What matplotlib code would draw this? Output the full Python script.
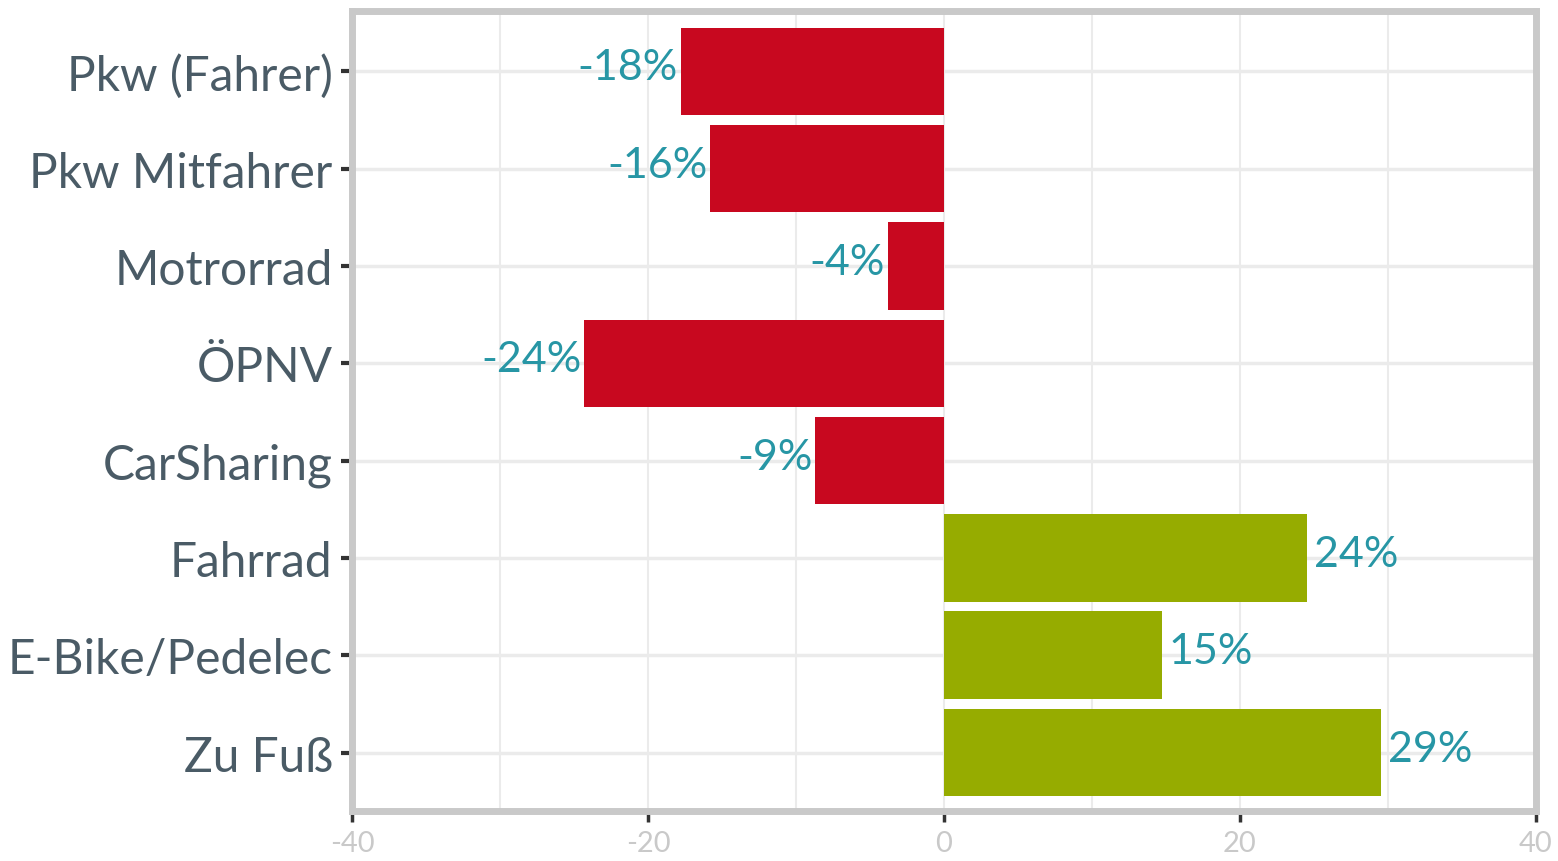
import matplotlib
matplotlib.use("Agg")
import matplotlib.pyplot as plt
from matplotlib.ticker import MultipleLocator

# Daten
kategorien = ["Pkw (Fahrer)", "Pkw Mitfahrer", "Motrorrad", "ÖPNV", "CarSharing",
              "Fahrrad", "E-Bike/Pedelec", "Zu Fuß"]
werte = [-17.8, -15.8, -3.8, -24.3, -8.7, 24.5, 14.7, 29.5]
beschriftung = ["-18%", "-16%", "-4%", "-24%", "-9%", "24%", "15%", "29%"]
x_ticks = [-40, -20, 0, 20, 40]

rot = "#C8081F"
gruen = "#96AC00"
teal = "#2796A5"
grau = "#C9C9C9"

plt.rcParams['font.family'] = ['Lato', 'DejaVu Sans']

fig = plt.figure(figsize=(15.58, 8.62), dpi=100)
ax = fig.add_axes([352 / 1558, 1 - 812 / 862, (1536 - 352) / 1558, 800 / 862])

pos = list(range(len(kategorien)))
farben = [rot if w < 0 else gruen for w in werte]
ax.barh(pos, werte, height=0.9, color=farben, zorder=3)

for p, w, t in zip(pos, werte, beschriftung):
    if w < 0:
        ax.text(w - 0.2, p - 0.04, t, ha='right', va='center', color=teal, fontsize=31, zorder=4)
    else:
        ax.text(w + 0.5, p - 0.04, t, ha='left', va='center', color=teal, fontsize=31, zorder=4)

ax.set_xlim(-40, 40)
ax.set_ylim(len(kategorien) - 0.4, -0.62)
ax.set_xticks(x_ticks)
ax.set_xticklabels([str(v) for v in x_ticks])
ax.xaxis.set_minor_locator(MultipleLocator(10))
ax.set_yticks(pos)
ax.set_yticklabels(kategorien)

ax.grid(True, which='both', axis='x', color='#EBEBEB', linewidth=1.5, zorder=0)
ax.grid(True, axis='y', color='#EBEBEB', linewidth=2.5, zorder=0)

for s in ax.spines.values():
    s.set_color(grau)
    s.set_linewidth(5)

ax.tick_params(axis='y', length=8, width=3, color='#333333', labelsize=34.5,
               labelcolor='#4A5B66', pad=6)
ax.tick_params(axis='x', which='major', length=8, width=2.5, color='#333333',
               labelsize=21, labelcolor=grau, pad=6)
ax.tick_params(axis='x', which='minor', length=0)

fig.savefig("out.png", dpi=100)
